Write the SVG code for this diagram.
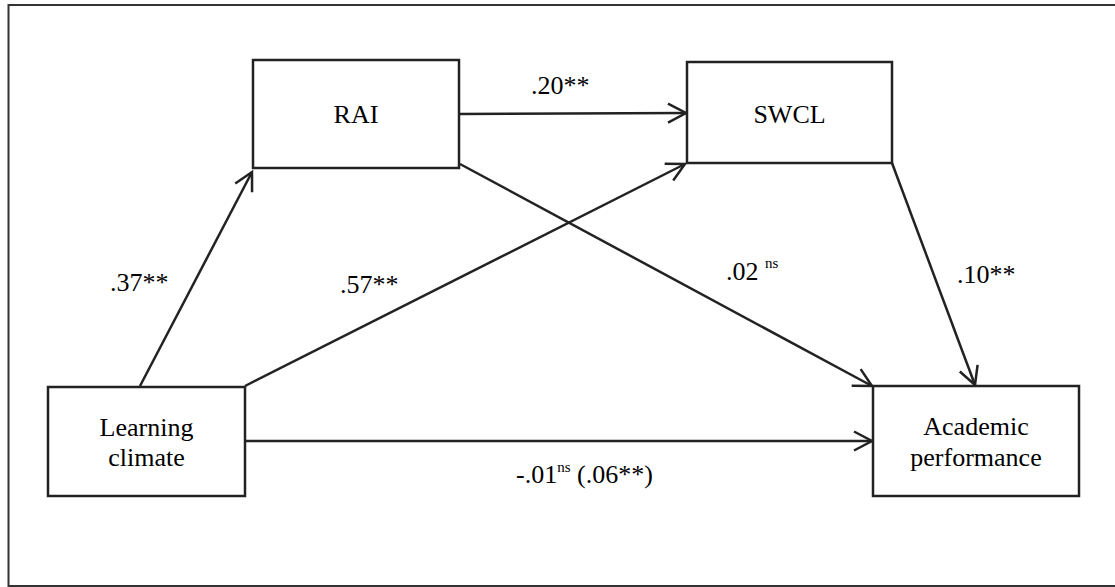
<svg xmlns="http://www.w3.org/2000/svg" width="1115" height="587" viewBox="0 0 1115 587">
<style>
.box{fill:#fff;stroke:#222;stroke-width:2.5}
.lbl{font-family:"Liberation Serif","Times New Roman",serif;font-size:26px;fill:#000}
.sup{font-size:15px}
.edge{stroke:#222;stroke-width:2.5;fill:none;marker-end:url(#arr)}
</style>
<defs>
<marker id="arr" markerUnits="userSpaceOnUse" markerWidth="30" markerHeight="30" viewBox="-22 -15 30 30" refX="0" refY="0" orient="auto">
<path d="M-18,-9.5 L0,0 L-18,9.5" fill="none" stroke="#222" stroke-width="2.5"/>
</marker>
</defs>
<rect x="0" y="0" width="1115" height="587" fill="#fff"/>
<rect id="frame" x="8.5" y="5" width="1120" height="581" fill="none" stroke="#333" stroke-width="2"/>
<g id="connectors">
<line class="edge" x1="140" y1="386" x2="252" y2="172"/>
<line class="edge" x1="245" y1="386" x2="685" y2="164"/>
<line class="edge" x1="459" y1="114" x2="686" y2="113"/>
<line class="edge" x1="460" y1="164" x2="872" y2="386"/>
<line class="edge" x1="892" y1="163" x2="975" y2="385"/>
<line class="edge" x1="245" y1="441" x2="872" y2="441"/>
</g>
<g id="node-rai">
<rect class="box" x="253" y="60" width="206" height="108"/>
<text class="lbl" x="356" y="123" text-anchor="middle">RAI</text>
</g>
<g id="node-swcl">
<rect class="box" x="687" y="62" width="205" height="101"/>
<text class="lbl" x="789.5" y="123" text-anchor="middle">SWCL</text>
</g>
<g id="node-learning">
<rect class="box" x="48" y="387" width="197" height="109"/>
<text class="lbl" x="146.5" y="436" text-anchor="middle">Learning</text>
<text class="lbl" x="146.5" y="466" text-anchor="middle">climate</text>
</g>
<g id="node-academic">
<rect class="box" x="873" y="386" width="206" height="110"/>
<text class="lbl" x="976" y="435" text-anchor="middle">Academic</text>
<text class="lbl" x="976" y="466" text-anchor="middle">performance</text>
</g>
<g id="labels">
<text class="lbl" x="531" y="94">.20**</text>
<text class="lbl" x="110" y="291">.37**</text>
<text class="lbl" x="340" y="293">.57**</text>
<text class="lbl" x="726" y="280">.02 <tspan class="sup" dy="-12">ns</tspan></text>
<text class="lbl" x="957" y="283">.10**</text>
<text class="lbl" x="516" y="483">-.01<tspan class="sup" dy="-11">ns</tspan><tspan dy="11"> (.06**)</tspan></text>
</g>
</svg>
